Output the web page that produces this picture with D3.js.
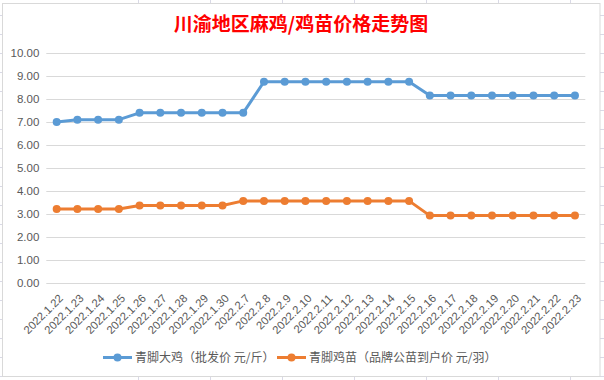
<!DOCTYPE html>
<html><head><meta charset="utf-8">
<script src="https://cdn.jsdelivr.net/npm/d3@7"></script>
<style>html,body{margin:0;padding:0;background:#fff;}svg{display:block;}</style>
</head><body>
<svg id="c" width="604" height="380"></svg>
<script>
const title = "川渝地区麻鸡/鸡苗价格走势图";
const categories = ["2022.1.22","2022.1.23","2022.1.24","2022.1.25","2022.1.26","2022.1.27","2022.1.28","2022.1.29","2022.1.30","2022.2.7","2022.2.8","2022.2.9","2022.2.10","2022.2.11","2022.2.12","2022.2.13","2022.2.14","2022.2.15","2022.2.16","2022.2.17","2022.2.18","2022.2.19","2022.2.20","2022.2.21","2022.2.22","2022.2.23"];
const seriesNames = ["青脚大鸡（批发价 元/斤）","青脚鸡苗（品牌公苗到户价 元/羽）"];
const chickenPrice = [7.00,7.10,7.10,7.10,7.40,7.40,7.40,7.40,7.40,7.40,8.75,8.75,8.75,8.75,8.75,8.75,8.75,8.75,8.15,8.15,8.15,8.15,8.15,8.15,8.15,8.15];
const chickPrice = [3.22,3.22,3.22,3.22,3.37,3.37,3.37,3.37,3.37,3.57,3.57,3.57,3.57,3.57,3.57,3.57,3.57,3.57,2.93,2.93,2.93,2.93,2.93,2.93,2.93,2.93];
const yTicks = [0,1,2,3,4,5,6,7,8,9,10];
const colors = ["#5B9BD5","#ED7D31"];

const svg = d3.select("#c");
const W = 604, H = 380;

// spreadsheet background grid
const sheet = svg.append("g").attr("stroke","#d9d9e6").attr("stroke-width",1);
d3.range(15, H, 19).forEach(y => sheet.append("line").attr("x1",0).attr("x2",W).attr("y1",y+0.5).attr("y2",y+0.5));
d3.range(138, W, 72).forEach(x => sheet.append("line").attr("x1",x+0.5).attr("x2",x+0.5).attr("y1",0).attr("y2",H));

// chart area
svg.append("rect").attr("x",2.5).attr("y",3.5).attr("width",597.5).attr("height",373)
  .attr("fill","#fff").attr("stroke","#d9d9d9").attr("stroke-width",1);

const x = d3.scaleBand().domain(categories).range([46.3, 585.3]);
const y = d3.scaleLinear().domain([0,10]).range([283, 53]);

svg.append("text").attr("x",301).attr("y",31).attr("text-anchor","middle")
  .attr("font-family","'Noto Sans CJK SC'").attr("font-weight","bold").attr("font-size",19)
  .attr("fill","#FF0000").text(title);

// gridlines
const yAxis = d3.axisLeft(y).tickValues(yTicks).tickFormat(d3.format(".2f")).tickSize(-(585.3-46.3)).tickPadding(7);
const ga = svg.append("g").attr("transform","translate(46.3,0)").call(yAxis);
ga.select(".domain").remove();
ga.selectAll(".tick line").attr("stroke","#d9d9d9").attr("stroke-width",1);
ga.selectAll(".tick text").attr("fill","#595959").attr("font-family","'Liberation Sans'").attr("font-size",11.5);

// x axis labels
const xAxis = d3.axisBottom(x).tickSize(0).tickPadding(0);
const gx = svg.append("g").attr("transform","translate(0,283)").call(xAxis);
gx.select(".domain").remove();
gx.selectAll(".tick text")
  .attr("fill","#595959").attr("font-family","'Liberation Sans'").attr("font-size",11.3)
  .attr("text-anchor","end").attr("dy",null).attr("y",0)
  .attr("dominant-baseline","middle")
  .attr("transform","translate(5,14) rotate(-45)");

const series = [chickenPrice, chickPrice];
const line = d3.line().x((d,i)=>x(categories[i])+x.bandwidth()/2).y(d=>y(d));
series.forEach((vals,k)=>{
  svg.append("path").datum(vals).attr("d",line).attr("fill","none")
    .attr("stroke",colors[k]).attr("stroke-width",3).attr("stroke-linejoin","round");
  svg.append("g").selectAll("circle").data(vals).join("circle")
    .attr("cx",(d,i)=>x(categories[i])+x.bandwidth()/2).attr("cy",d=>y(d)).attr("r",4)
    .attr("fill",colors[k]);
});

// legend
const legendX = [103, 277];
series.forEach((vals,k)=>{
  const g = svg.append("g").attr("transform",`translate(${legendX[k]},357.5)`);
  g.append("line").attr("x1",0).attr("x2",29).attr("y1",0).attr("y2",0).attr("stroke",colors[k]).attr("stroke-width",3);
  g.append("circle").attr("cx",14.5).attr("cy",0).attr("r",4).attr("fill",colors[k]);
  g.append("text").attr("x",32).attr("y",0).attr("dy","0.36em")
    .attr("font-family","'Noto Sans CJK SC'").attr("font-size",12).attr("fill","#595959").text(seriesNames[k]);
});
</script>
</body></html>
